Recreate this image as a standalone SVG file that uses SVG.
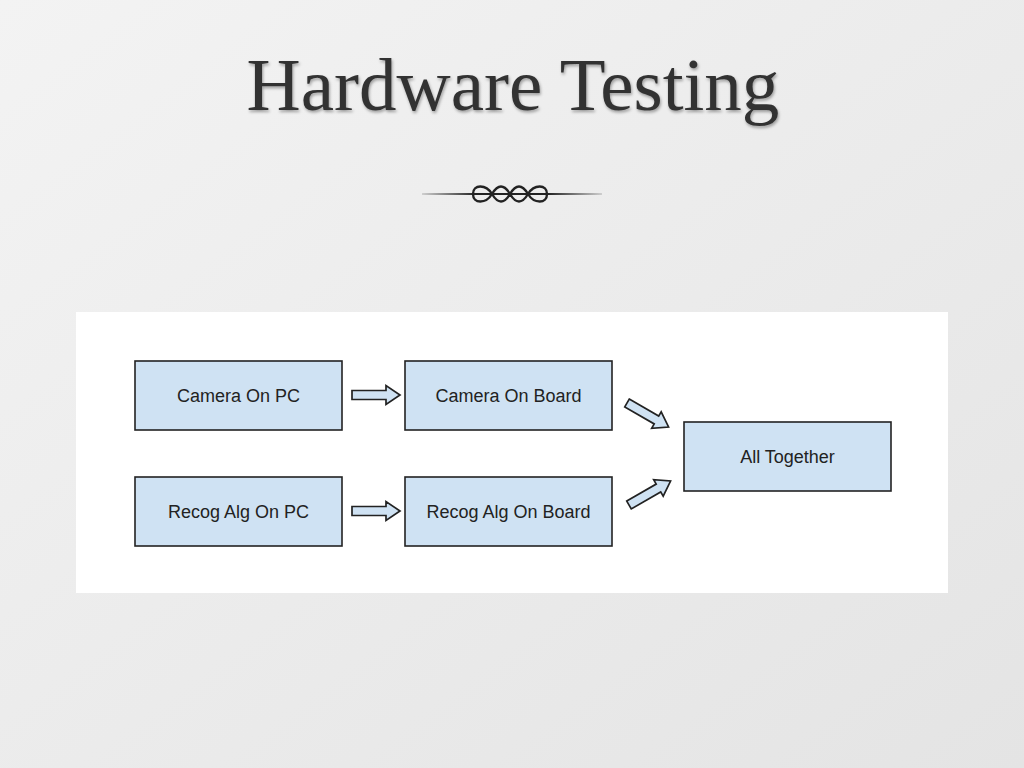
<svg xmlns="http://www.w3.org/2000/svg" width="1024" height="768" viewBox="0 0 1024 768">
<defs>
<linearGradient id="bg" x1="0" y1="0" x2="1" y2="1">
<stop offset="0" stop-color="#f3f3f3"/>
<stop offset="1" stop-color="#e4e4e4"/>
</linearGradient>
<linearGradient id="rule" gradientUnits="userSpaceOnUse" x1="422" y1="0" x2="602" y2="0">
<stop offset="0" stop-color="#222" stop-opacity="0.15"/>
<stop offset="0.3" stop-color="#222"/>
<stop offset="0.7" stop-color="#222"/>
<stop offset="1" stop-color="#222" stop-opacity="0.15"/>
</linearGradient>
<filter id="sh" x="-5%" y="-5%" width="110%" height="120%">
<feDropShadow dx="1" dy="2" stdDeviation="1.5" flood-color="#000" flood-opacity="0.35"/>
</filter>
<path id="barrow" d="M0,-4.5 L34,-4.5 L34,-9.5 L48,0 L34,9.5 L34,4.5 L0,4.5 Z"/>
</defs>
<style>
.box{fill:#cfe2f3;stroke:#222;stroke-width:1.6}
.lbl{font-family:"Liberation Sans",Arial,sans-serif;font-size:18px;fill:#222;text-anchor:middle}
.arr{fill:#cfe2f3;stroke:#222;stroke-width:1.7;stroke-linejoin:miter}
</style>
<rect width="1024" height="768" fill="url(#bg)"/>
<text x="513" y="110" font-family="'Liberation Serif','Times New Roman',serif" font-size="75" fill="#333" text-anchor="middle" filter="url(#sh)">Hardware Testing</text>
<g id="ornament" fill="none" stroke="#222">
<path d="M422,194 L602,194" stroke="url(#rule)" stroke-width="2"/>
<path d="M473,194 C473,184 486,184 492,194 C498,204 504,204 510,194 C516,184 522,184 528,194 C534,204 547,204 547,194 C547,184 534,184 528,194 C522,204 516,204 510,194 C504,184 498,184 492,194 C486,204 473,204 473,194 Z" stroke-width="2.4"/>
</g>
<rect x="76" y="312" width="872" height="281" fill="#ffffff"/>
<g id="camera-pc"><rect class="box" x="135" y="361" width="207" height="69"/><text class="lbl" x="238.5" y="402">Camera On PC</text></g>
<g id="camera-board"><rect class="box" x="405" y="361" width="207" height="69"/><text class="lbl" x="508.5" y="402">Camera On Board</text></g>
<g id="recog-pc"><rect class="box" x="135" y="477" width="207" height="69"/><text class="lbl" x="238.5" y="518">Recog Alg On PC</text></g>
<g id="recog-board"><rect class="box" x="405" y="477" width="207" height="69"/><text class="lbl" x="508.5" y="518">Recog Alg On Board</text></g>
<g id="all-together"><rect class="box" x="684" y="422" width="207" height="69"/><text class="lbl" x="787.5" y="463">All Together</text></g>
<g id="connectors">
<use href="#barrow" class="arr" transform="translate(352,395)"/>
<use href="#barrow" class="arr" transform="translate(352,511)"/>
<use href="#barrow" class="arr" transform="translate(627,403) rotate(30)"/>
<use href="#barrow" class="arr" transform="translate(629,505) rotate(-30)"/>
</g>
</svg>
